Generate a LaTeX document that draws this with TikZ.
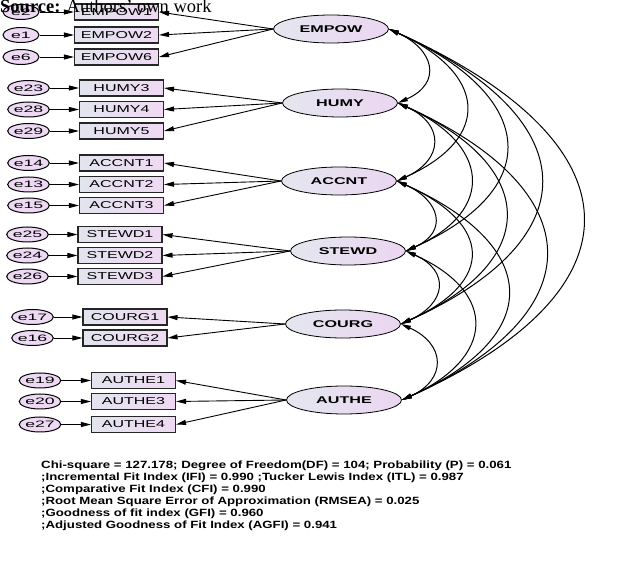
\documentclass[tikz,border=0pt]{standalone}
\usepackage{fontspec}
\setmainfont{Liberation Serif}
\newfontfamily\boxfont[FakeStretch=1.6]{Liberation Sans}
\newfontfamily\errfont[FakeStretch=1.9]{Liberation Sans}
\newfontfamily\latfont[FakeStretch=1.65]{Liberation Sans}
\newfontfamily\fitfont[FakeStretch=1.26]{Liberation Sans}
\usetikzlibrary{arrows.meta,shapes.geometric}

\definecolor{obsleft}{HTML}{E2E4EE}
\definecolor{obsright}{HTML}{EFD9F3}
\definecolor{errfill}{HTML}{EDD9F3}
\definecolor{latleft}{HTML}{E4E6EF}
\definecolor{latright}{HTML}{EBD6F1}

\begin{document}
\begin{tikzpicture}[
    x=1pt, y=1pt,
    obs/.style={
        draw=black!85, line width=1.1pt, left color=obsleft, right color=obsright,
        minimum width=84pt, minimum height=16pt, inner sep=0pt,
        font=\boxfont\fontsize{10}{10}\selectfont
    },
    err/.style={
        ellipse, draw, line width=1pt, fill=errfill,
        minimum width=36pt, minimum height=15pt, inner sep=0pt,
        font=\errfont\fontsize{9.3}{9.3}\selectfont
    },
    lat/.style={
        ellipse, draw, line width=0.8pt, left color=latleft, right color=latright,
        minimum width=115pt, minimum height=28pt, inner sep=0pt,
        font=\latfont\bfseries\fontsize{9.8}{9.8}\selectfont
    },
    load/.style={-{Triangle[length=10pt,width=5pt]}, line width=0.9pt},
    corr/.style={{Triangle[length=10pt,width=4.5pt]}-{Triangle[length=10pt,width=4.5pt]}, line width=1pt},
    fitnote/.style={font=\fitfont\bfseries\fontsize{10.5}{12}\selectfont, align=left, inner sep=0pt}
]
\useasboundingbox (0,0) rectangle (625,-564);

% Latent constructs
\node[lat] (empow) at (331,-29)  {EMPOW};
\node[lat] (humy)  at (340,-103) {HUMY};
\node[lat] (accnt) at (339,-181) {ACCNT};
\node[lat] (stewd) at (348,-251) {STEWD};
\node[lat] (courg) at (343,-324) {COURG};
\node[lat] (authe) at (344,-400) {AUTHE};

% Indicators with their error terms
\foreach \lat/\n/\e/\bx/\ex/\y in {
    empow/EMPOW1/e2/116.5/21/12, empow/EMPOW2/e1/116.5/21/35, empow/EMPOW6/e6/116.5/21/57,
    humy/HUMY3/e23/121.5/28.5/88, humy/HUMY4/e28/121.5/28.5/109.5, humy/HUMY5/e29/121.5/28.5/131,
    accnt/ACCNT1/e14/121.5/28.5/163, accnt/ACCNT2/e13/121.5/28.5/184.5, accnt/ACCNT3/e15/121.5/28.5/205.5,
    stewd/STEWD1/e25/120/27.5/234.5, stewd/STEWD2/e24/120/27.5/255.5, stewd/STEWD3/e26/120/27.5/276.5,
    courg/COURG1/e17/125/32.5/317, courg/COURG2/e16/125/32.5/338,
    authe/AUTHE1/e19/133.5/40/380.5, authe/AUTHE3/e20/133.5/40/401.5, authe/AUTHE4/e27/133.5/40/424.5}
{
    \node[obs] (\n) at (\bx,-\y) {\n};
    \node[err] (\e) at (\ex,-\y) {\e};
    \draw[load] (\e) -- (\n);
    \draw[load] (\lat.west) -- (\n.east);
}

% Covariances between constructs
\foreach \a/\b/\d in {
    empow/humy/45, empow/accnt/97, empow/stewd/144, empow/courg/194, empow/authe/249,
    humy/accnt/47, humy/stewd/91, humy/courg/141, humy/authe/194,
    accnt/stewd/43, accnt/courg/95, accnt/authe/144,
    stewd/courg/45, stewd/authe/93,
    courg/authe/45}
    \draw[corr] (\a.east) .. controls +(\d,-0.45*\d) and +(\d,0.45*\d) .. (\b.east);

% Fit indices
\node[fitnote, anchor=north west] (fit) at (41,-461) {Chi-square = 127.178; Degree of Freedom(DF) = 104; Probability (P) = 0.061\\
;Incremental Fit Index (IFI) = 0.990 ;Tucker Lewis Index (ITL) = 0.987\\
;Comparative Fit Index (CFI) = 0.990\\
;Root Mean Square Error of Approximation (RMSEA) = 0.025\\
;Goodness of fit index (GFI) = 0.960\\
;Adjusted Goodness of Fit Index (AGFI) = 0.941};

% Source line
\node[anchor=base west, inner sep=0pt, font=\fontsize{18.5}{18.5}\selectfont] (src) at (0,-13) {\textbf{Source:} Authors’ own work};
\end{tikzpicture}
\end{document}
